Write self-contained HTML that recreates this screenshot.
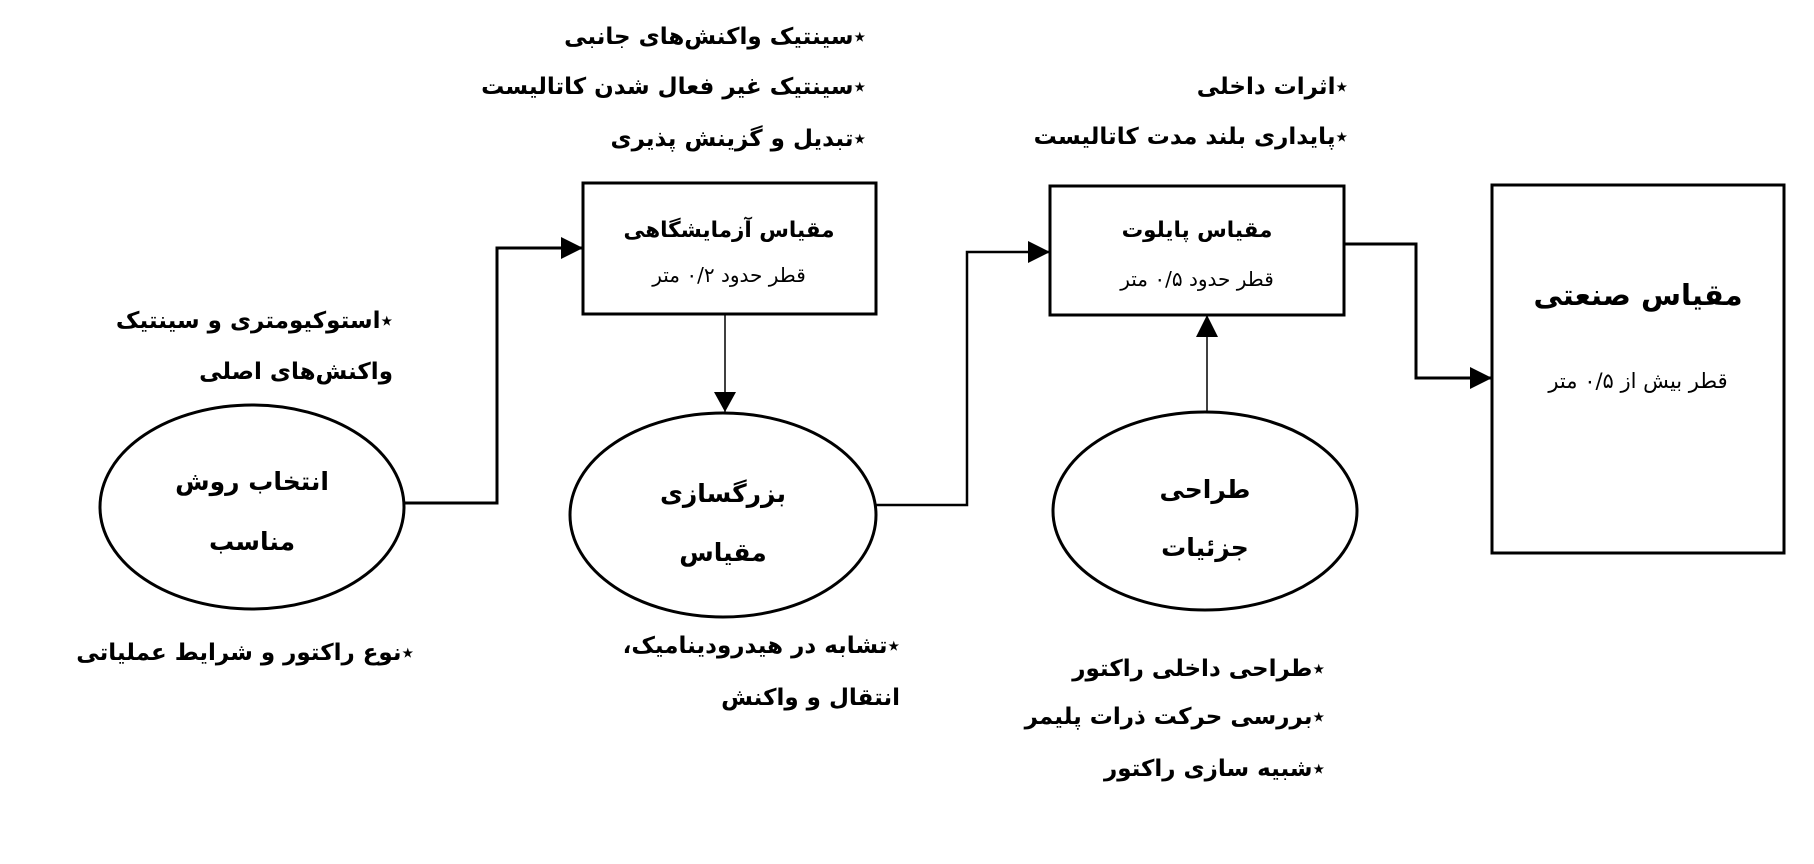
<!DOCTYPE html>
<html><head><meta charset="utf-8"><style>
body{margin:0;width:1814px;height:864px;background:#fff;position:relative;overflow:hidden;font-family:"DejaVu Sans",sans-serif;}
svg{position:absolute;left:0;top:0}
.t{position:absolute;direction:rtl;white-space:nowrap;font-weight:bold;font-size:23px;line-height:30px;height:30px;color:#000}
.c{position:absolute;direction:rtl;white-space:nowrap;text-align:center;line-height:30px;height:30px;width:300px;color:#000}
</style></head><body>
<svg width="1814" height="864">
<defs>
<marker id="a" markerWidth="20" markerHeight="22" refX="20" refY="11" orient="auto" markerUnits="userSpaceOnUse"><path d="M0,0 L20,11 L0,22 z"/></marker>
<marker id="b" markerWidth="22" markerHeight="22" refX="21" refY="11" orient="auto" markerUnits="userSpaceOnUse"><path d="M0,0 L22,11 L0,22 z"/></marker>
</defs>
<g fill="#fff" stroke="#000" stroke-width="3">
<rect x="583" y="183" width="293" height="131"/>
<rect x="1050" y="186" width="294" height="129"/>
<rect x="1492" y="185" width="292" height="368"/>
<ellipse cx="252" cy="507" rx="152" ry="102"/>
<ellipse cx="723" cy="515" rx="153" ry="102"/>
<ellipse cx="1205" cy="511" rx="152" ry="99"/>
</g>
<g fill="none" stroke="#000">
<polyline points="405,503 497,503 497,248 582,248" stroke-width="3" marker-end="url(#b)"/>
<line x1="725" y1="314" x2="725" y2="412" stroke-width="1.5" marker-end="url(#a)"/>
<polyline points="876,505 967,505 967,252 1049,252" stroke-width="2.5" marker-end="url(#b)"/>
<line x1="1207" y1="412" x2="1207" y2="316" stroke-width="1.5" marker-end="url(#b)"/>
<polyline points="1344,244 1416,244 1416,378 1491,378" stroke-width="3" marker-end="url(#b)"/>
</g>
</svg>

<div class="c" style="left:579px;top:216px;font-weight:bold;font-size:21.5px">مقیاس آزمایشگاهی</div>
<div class="c" style="left:579px;top:260px;font-size:20px">قطر حدود ۰/۲ متر</div>
<div class="c" style="left:1047px;top:216px;font-weight:bold;font-size:21.5px">مقیاس پایلوت</div>
<div class="c" style="left:1047px;top:264px;font-size:20px">قطر حدود ۰/۵ متر</div>
<div class="c" style="left:1488px;top:280px;font-weight:bold;font-size:29px">مقیاس صنعتی</div>
<div class="c" style="left:1488px;top:366px;font-size:21px">قطر بیش از ۰/۵ متر</div>

<div class="c" style="left:102px;top:467px;font-weight:bold;font-size:25px">انتخاب روش</div>
<div class="c" style="left:102px;top:527px;font-weight:bold;font-size:25px">مناسب</div>
<div class="c" style="left:573px;top:479px;font-weight:bold;font-size:25px">بزرگسازی</div>
<div class="c" style="left:573px;top:538px;font-weight:bold;font-size:25px">مقیاس</div>
<div class="c" style="left:1055px;top:475px;font-weight:bold;font-size:25px">طراحی</div>
<div class="c" style="left:1055px;top:533px;font-weight:bold;font-size:25px">جزئیات</div>

<div class="t" style="right:948px;top:22px">٭سینتیک واکنش‌های جانبی</div>
<div class="t" style="right:948px;top:72px">٭سینتیک غیر فعال شدن کاتالیست</div>
<div class="t" style="right:948px;top:124px">٭تبدیل و گزینش پذیری</div>
<div class="t" style="right:466px;top:72px">٭اثرات داخلی</div>
<div class="t" style="right:466px;top:122px">٭پایداری بلند مدت کاتالیست</div>
<div class="t" style="right:1421px;top:306px">٭استوکیومتری و سینتیک</div>
<div class="t" style="right:1421px;top:357px">واکنش‌های اصلی</div>
<div class="t" style="right:1400px;top:638px">٭نوع راکتور و شرایط عملیاتی</div>
<div class="t" style="right:914px;top:631px">٭تشابه در هیدرودینامیک،</div>
<div class="t" style="right:914px;top:683px">انتقال و واکنش</div>
<div class="t" style="right:489px;top:654px">٭طراحی داخلی راکتور</div>
<div class="t" style="right:489px;top:702px">٭بررسی حرکت ذرات پلیمر</div>
<div class="t" style="right:489px;top:754px">٭شبیه سازی راکتور</div>
</body></html>
